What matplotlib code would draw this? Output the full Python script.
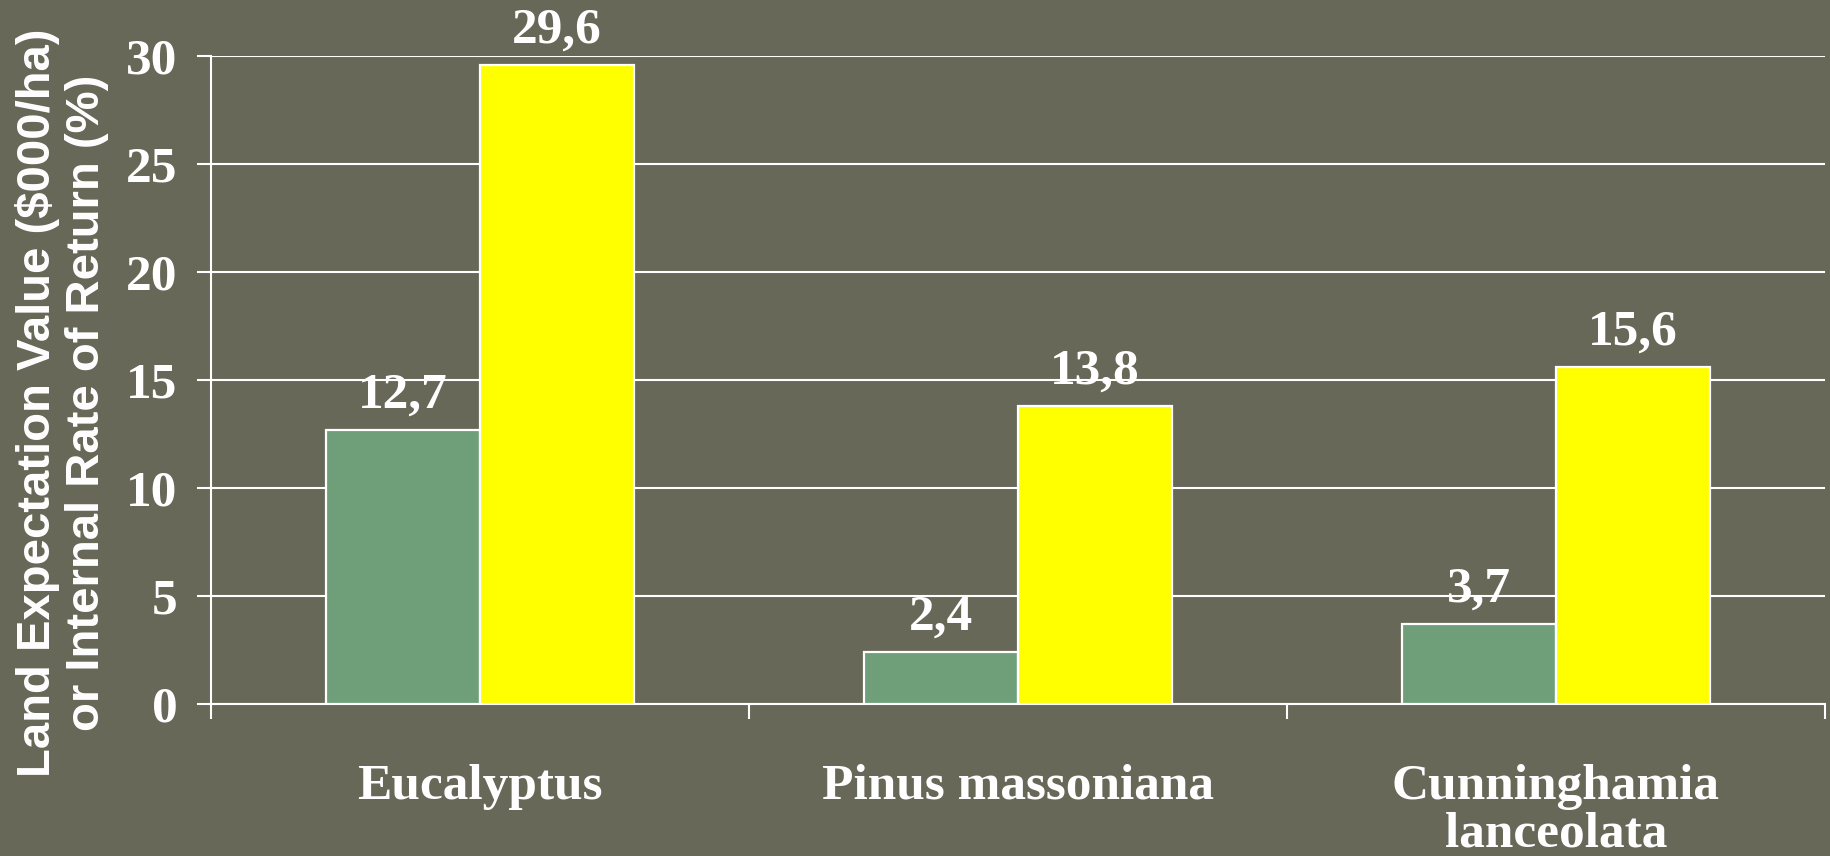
import numpy as np
import matplotlib
matplotlib.use('Agg')
import matplotlib.pyplot as plt

# 数据
species = ['Eucalyptus', 'Pinus massoniana', 'Cunninghamia\nlanceolata']
lev_values = [12.7, 2.4, 3.7]     # Land Expectation Value ($000/ha)
irr_values = [29.6, 13.8, 15.6]   # Internal Rate of Return (%)
y_ticks = [0, 5, 10, 15, 20, 25, 30]

bg = '#686858'
green = '#6f9f79'
yellow = '#ffff00'
serif = 'Liberation Serif'
sans = 'Liberation Sans'

fig = plt.figure(figsize=(18.31, 8.56), dpi=100, facecolor=bg)
ax = fig.add_axes([0.1152, 0.1776, 0.8815, 0.757])
ax.set_facecolor(bg)

x = np.arange(len(species)) + 0.5
w = 0.287
b1 = ax.bar(x - w / 2, lev_values, w, color=green, edgecolor='white', linewidth=1.6, zorder=3)
b2 = ax.bar(x + w / 2, irr_values, w, color=yellow, edgecolor='white', linewidth=1.6, zorder=3)

# 数值标签（逗号作小数点）
for bars, vals in ((b1, lev_values), (b2, irr_values)):
    for rect, v in zip(bars, vals):
        ax.annotate(f'{v:.1f}'.replace('.', ','),
                    (rect.get_x() + rect.get_width() / 2, v),
                    xytext=(0, 16), textcoords='offset points',
                    ha='center', va='baseline', color='white',
                    fontsize=37, fontweight='bold', family=serif)

ax.set_xlim(0, 3)
ax.set_ylim(0, 30)
ax.set_yticks(y_ticks)
ax.set_yticklabels([str(t) for t in y_ticks], fontsize=37, fontweight='bold',
                   family=serif, color='white')
ax.tick_params(axis='y', direction='out', length=10, width=1.5, color='white', pad=14)

# 分组边界刻度 + 居中的类别标签
ax.set_xticks([0, 1, 2, 3])
ax.set_xticklabels([])
ax.set_xticks(x, minor=True)
ax.set_xticklabels(species, minor=True, fontsize=37, fontweight='bold',
                   family=serif, color='white', linespacing=1.05)
ax.tick_params(axis='x', which='major', direction='out', length=11, width=1.5, color='white')
ax.tick_params(axis='x', which='minor', length=0, pad=43)

ax.grid(axis='y', color='white', linewidth=1.5, zorder=0)
ax.set_axisbelow(True)
for side in ('top', 'right'):
    ax.spines[side].set_visible(False)
for side in ('left', 'bottom'):
    ax.spines[side].set_color('white')
    ax.spines[side].set_linewidth(1.5)

fig.text(0.034, 0.53, 'Land Expectation Value ($000/ha)\nor Internal Rate of Return (%)',
         rotation=90, ha='center', va='center', color='white', fontsize=34,
         fontweight='bold', family=sans, linespacing=1.15, multialignment='center')

fig.savefig('out.png', dpi=100, facecolor=bg)
